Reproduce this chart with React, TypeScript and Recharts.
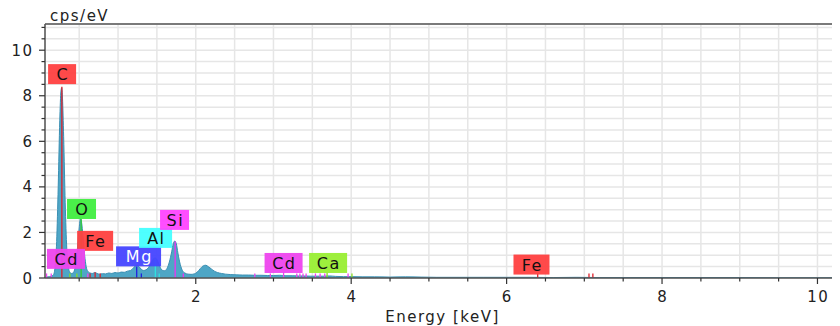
import React from 'react';
import { ComposedChart, Area, XAxis, YAxis, CartesianGrid, ReferenceLine, ReferenceDot } from 'recharts';

// Spectrum (energy in keV, counts in cps/eV)
const ENERGY_KEV = [
  0.06, 0.10, 0.14, 0.17, 0.19, 0.21, 0.23, 0.25, 0.265, 0.275, 0.285, 0.30, 0.32, 0.34, 0.36, 0.38,
  0.40, 0.42, 0.44, 0.46, 0.48, 0.50, 0.515, 0.53, 0.55, 0.57, 0.59, 0.61, 0.64, 0.67, 0.70, 0.73,
  0.76, 0.80, 0.84, 0.88, 0.92, 0.96, 1.00, 1.04, 1.08, 1.12, 1.16, 1.19, 1.22, 1.245, 1.27, 1.30,
  1.33, 1.36, 1.39, 1.42, 1.45, 1.48, 1.51, 1.54, 1.57, 1.60, 1.63, 1.66, 1.69, 1.71, 1.73, 1.75,
  1.77, 1.80, 1.83, 1.86, 1.90, 1.94, 1.98, 2.02, 2.06, 2.10, 2.13, 2.16, 2.20, 2.24, 2.28, 2.33,
  2.38, 2.45, 2.52, 2.60, 2.68, 2.76, 2.84, 2.92, 3.00, 3.08, 3.16, 3.24, 3.32, 3.40, 3.48, 3.56,
  3.64, 3.72, 3.80, 3.90, 4.00, 4.15, 4.30, 4.50, 4.70, 4.90, 5.10, 5.40, 5.70, 6.00, 6.30, 6.60,
  6.90, 7.20, 7.60, 8.00, 8.50, 9.00, 9.50, 10.00, 10.29,
];
const CPS = [
  0.03, 0.05, 0.08, 0.15, 0.5, 1.6, 4.0, 6.9, 8.2, 8.35, 7.9, 6.2, 3.3, 1.3, 0.5, 0.25,
  0.2, 0.22, 0.35, 0.7, 1.4, 2.2, 2.6, 2.45, 1.8, 1.0, 0.5, 0.3, 0.22, 0.2, 0.24, 0.2,
  0.17, 0.19, 0.18, 0.22, 0.2, 0.24, 0.22, 0.26, 0.25, 0.3, 0.33, 0.42, 0.52, 0.56, 0.5, 0.38,
  0.33, 0.36, 0.45, 0.62, 0.82, 0.88, 0.74, 0.48, 0.34, 0.32, 0.42, 0.7, 1.15, 1.5, 1.62, 1.5,
  1.1, 0.6, 0.32, 0.22, 0.17, 0.16, 0.18, 0.26, 0.42, 0.54, 0.56, 0.5, 0.4, 0.3, 0.24, 0.2,
  0.17, 0.15, 0.14, 0.13, 0.13, 0.12, 0.12, 0.11, 0.11, 0.12, 0.1, 0.1, 0.09, 0.09, 0.08, 0.08,
  0.08, 0.09, 0.07, 0.06, 0.06, 0.05, 0.05, 0.04, 0.05, 0.04, 0.03, 0.03, 0.03, 0.03, 0.03, 0.02,
  0.03, 0.02, 0.02, 0.02, 0.02, 0.02, 0.01, 0.01, 0.01,
];

// Element line markers
const MARKER_KEV = [
  0.08, 0.14, 0.277, 0.38, 0.47, 0.525, 0.61, 0.64, 0.705, 0.77, 1.24, 1.30, 1.48, 1.53, 1.735, 1.84,
  2.76, 2.96, 3.13, 3.30, 3.34, 3.38, 3.42, 3.54, 3.60, 3.66, 3.69, 3.96, 4.01, 6.40, 7.06, 7.11,
];
const MARKER_HEIGHT = [
  0.2, 0.2, 8.4, 0.2, 0.2, 2.6, 0.2, 0.2, 0.25, 0.2, 0.5, 0.2, 0.85, 0.2, 1.6, 0.2,
  0.2, 0.2, 0.25, 0.2, 0.2, 0.2, 0.2, 0.2, 0.2, 0.2, 0.25, 0.2, 0.2, 0.2, 0.2, 0.2,
];
const MARKER_ELEMENT = [
  'Cd', 'Cd', 'C', 'Ca', 'Ca', 'O', 'Cd', 'Fe', 'Fe', 'Fe', 'Mg', 'Mg', 'Al', 'Al', 'Si', 'Si',
  'Cd', 'Cd', 'Cd', 'Cd', 'Cd', 'Cd', 'Cd', 'Cd', 'Cd', 'Cd', 'Ca', 'Cd', 'Ca', 'Fe', 'Fe', 'Fe',
];

// Element labels
const LABEL_TEXT = ['C', 'O', 'Fe', 'Cd', 'Mg', 'Al', 'Si', 'Cd', 'Ca', 'Fe'];
const LABEL_KEV = [0.28, 0.53, 0.705, 0.33, 1.264, 1.483, 1.727, 3.13, 3.703, 6.32];
const LABEL_CPS = [8.95, 3.03, 1.63, 0.84, 0.95, 1.76, 2.55, 0.66, 0.66, 0.59];

const X_TICKS = [0.5, 1, 1.5, 2, 2.5, 3, 3.5, 4, 4.5, 5, 5.5, 6, 6.5, 7, 7.5, 8, 8.5, 9, 9.5, 10];
const Y_TICKS = [0, 0.5, 1, 1.5, 2, 2.5, 3, 3.5, 4, 4.5, 5, 5.5, 6, 6.5, 7, 7.5, 8, 8.5, 9, 9.5, 10, 10.5, 11];
const X_LABELS = [2, 4, 6, 8, 10];
const Y_LABELS = [0, 2, 4, 6, 8, 10];
const X_DOMAIN = [0.06, 10.29];
const Y_DOMAIN = [0, 11.15];

const ELEMENT_STYLE: Record<string, { fill: string; text: string; width: number; line: string }> = {
  C: { fill: '#ff4040', text: '#111', width: 28, line: '#e0202a' },
  O: { fill: '#40ee40', text: '#111', width: 29, line: '#30d030' },
  Fe: { fill: '#ff4040', text: '#111', width: 36, line: '#e0202a' },
  Cd: { fill: '#ee44ee', text: '#111', width: 38, line: '#ee44ee' },
  Mg: { fill: '#4444ff', text: '#fff', width: 45, line: '#2020e0' },
  Al: { fill: '#44ffff', text: '#111', width: 33, line: '#30e0e0' },
  Si: { fill: '#ff44ff', text: '#111', width: 29, line: '#ee30ee' },
  Ca: { fill: '#99ee33', text: '#111', width: 38, line: '#88dd22' },
};

const FONT = '"DejaVu Sans", "Noto Sans", sans-serif';
const LS = 1.5;

const spectrum = ENERGY_KEV.map((e, i) => ({ e, cps: CPS[i] }));
const markers = MARKER_KEV.map((k, i) => ({ k, h: MARKER_HEIGHT[i], el: MARKER_ELEMENT[i] }));
const labels = LABEL_TEXT.map((t, i) => ({ t, k: LABEL_KEV[i], v: LABEL_CPS[i] }));

const XTick = (props: any) => {
  const { x, y, payload } = props;
  const v = payload.value;
  const major = X_LABELS.includes(v);
  return (
    <g>
      <line x1={x} y1={y} x2={x} y2={y + (major ? 6 : 3.5)} stroke="#333" strokeWidth={1.2} />
      {major && (
        <text
          x={x + LS / 2}
          y={y + 24}
          textAnchor="middle"
          fontSize={15}
          fill="#222"
          fontFamily={FONT}
          style={{ letterSpacing: LS }}
        >
          {v}
        </text>
      )}
    </g>
  );
};

const YTick = (props: any) => {
  const { x, y, payload } = props;
  const v = payload.value;
  const major = Y_LABELS.includes(v);
  return (
    <g>
      <line x1={x} y1={y} x2={x - (major ? 6 : 3.5)} y2={y} stroke="#333" strokeWidth={1.2} />
      {major && (
        <text
          x={x - 13 + LS}
          y={y + 5.5}
          textAnchor="end"
          fontSize={15}
          fill="#222"
          fontFamily={FONT}
          style={{ letterSpacing: LS }}
        >
          {v}
        </text>
      )}
    </g>
  );
};

const makeLabelShape = (text: string) => (props: any) => {
  const { cx, cy } = props;
  const s = ELEMENT_STYLE[text];
  const w = s.width;
  const h = 20;
  return (
    <g>
      <rect x={cx - w / 2} y={cy - h / 2} width={w} height={h} fill={s.fill} fillOpacity={0.95} />
      <text
        x={cx + 0.75}
        y={cy + 6}
        textAnchor="middle"
        fontSize={16}
        fill={s.text}
        fontFamily={FONT}
        style={{ letterSpacing: 1.5 }}
      >
        {text}
      </text>
    </g>
  );
};

export default function App() {
  return (
    <div style={{ position: 'relative', width: 832, height: 318 }}>
      <div
        style={{
          position: 'absolute',
          left: 42,
          top: 0,
          fontFamily: FONT,
          fontSize: 15,
          color: '#222',
          lineHeight: '16px',
          letterSpacing: LS,
        }}
      >
        cps/eV
      </div>
      <ComposedChart
        width={832}
        height={318}
        data={spectrum}
        margin={{ top: 16, right: 0, bottom: 0, left: 0 }}
      >
        <CartesianGrid stroke="#e6e6e6" strokeWidth={1.5} />
        <XAxis
          type="number"
          dataKey="e"
          domain={X_DOMAIN}
          allowDataOverflow
          ticks={X_TICKS}
          interval={0}
          tick={<XTick />}
          tickLine={false}
          tickSize={0}
          tickMargin={0}
          height={48}
          axisLine={{ stroke: '#555', strokeWidth: 1.5 }}
          label={{
            value: 'Energy [keV]',
            position: 'insideBottom',
            offset: 4,
            style: { fontSize: 15, fill: '#222', fontFamily: FONT, letterSpacing: LS },
          }}
        />
        <YAxis
          type="number"
          domain={Y_DOMAIN}
          allowDataOverflow
          ticks={Y_TICKS}
          interval={0}
          tick={<YTick />}
          tickLine={false}
          tickSize={0}
          tickMargin={0}
          width={37}
          axisLine={{ stroke: '#555', strokeWidth: 1.5 }}
        />
        <ReferenceLine y={Y_DOMAIN[1]} stroke="#555" strokeWidth={1.5} ifOverflow="visible" />
        <Area
          type="monotone"
          dataKey="cps"
          stroke="#3a8fb3"
          strokeWidth={1}
          fill="#4ea6c6"
          fillOpacity={1}
          isAnimationActive={false}
          dot={false}
          activeDot={false}
        />
        {markers.map((m, i) => (
          <ReferenceLine
            key={'m' + i}
            segment={[
              { x: m.k, y: 0 },
              { x: m.k, y: m.h },
            ]}
            stroke={ELEMENT_STYLE[m.el].line}
            strokeWidth={1.3}
          />
        ))}
        {labels.map((l, i) => (
          <ReferenceDot key={'l' + i} x={l.k} y={l.v} r={0} shape={makeLabelShape(l.t)} />
        ))}
      </ComposedChart>
    </div>
  );
}
